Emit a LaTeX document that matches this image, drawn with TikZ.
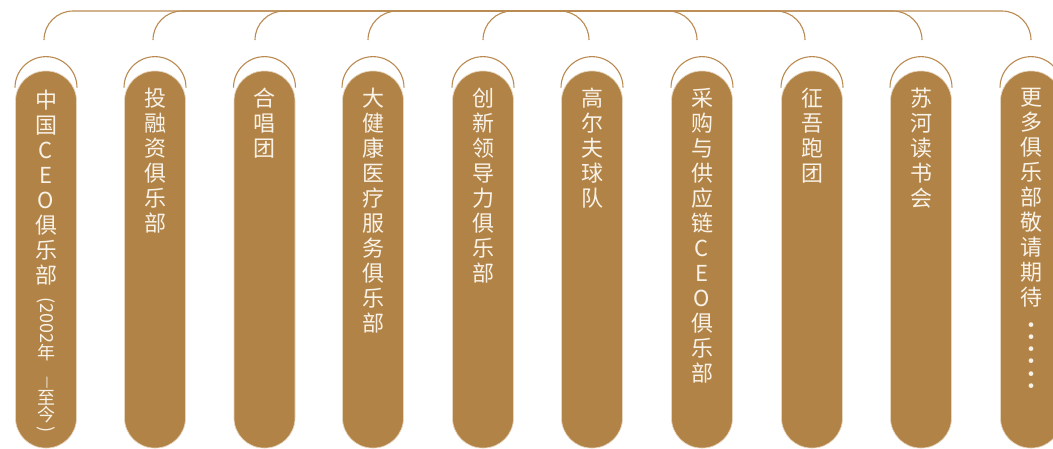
\documentclass[tikz,border=0pt]{standalone}
\usepackage{fontspec}
\usepackage{graphicx}
\setmainfont{Noto Sans CJK SC}
\usetikzlibrary{positioning}
\definecolor{clubbrown}{HTML}{B28346}
\definecolor{clubline}{HTML}{B98A51}
\definecolor{clubrim}{HTML}{E6D6C0}
\definecolor{clubtext}{HTML}{F8F2E8}

\begin{document}
\begin{tikzpicture}[x=1pt,y=-1pt,
pill/.style={rectangle,rounded corners=30pt,fill=clubbrown,
draw=clubrim,line width=0.7pt,
minimum width=61pt,minimum height=377pt,inner sep=0pt},
pilltext/.style={text=clubtext,align=center,inner sep=0pt,
font=\fontsize{22}{25}\selectfont},
smalltext/.style={text=clubtext,align=center,inner sep=0pt,
font=\fontsize{18}{17}\selectfont},
hood/.style={draw=clubline,line width=1.1pt},
link/.style={draw=clubline,line width=1.1pt,rounded corners=29pt}]
\clip (0,0) rectangle (1053,448);

\node[pill] (pill1) at (46,259.5) {};
\node[pill] (pill2) at (155,259.5) {};
\node[pill] (pill3) at (264.5,259.5) {};
\node[pill] (pill4) at (373,259.5) {};
\node[pill] (pill5) at (483,259.5) {};
\node[pill] (pill6) at (592,259.5) {};
\node[pill] (pill7) at (702,259.5) {};
\node[pill] (pill8) at (812,259.5) {};
\node[pill] (pill9) at (921,259.5) {};
\node[pill] (pill10) at (1031,259.5) {};

\draw[hood] ([xshift=-31pt,yshift=-17pt]pill1.north) arc[start angle=180,end angle=360,radius=31];
\draw[hood] ([xshift=-31pt,yshift=-17pt]pill2.north) arc[start angle=180,end angle=360,radius=31];
\draw[hood] ([xshift=-31pt,yshift=-17pt]pill3.north) arc[start angle=180,end angle=360,radius=31];
\draw[hood] ([xshift=-31pt,yshift=-17pt]pill4.north) arc[start angle=180,end angle=360,radius=31];
\draw[hood] ([xshift=-31pt,yshift=-17pt]pill5.north) arc[start angle=180,end angle=360,radius=31];
\draw[hood] ([xshift=-31pt,yshift=-17pt]pill6.north) arc[start angle=180,end angle=360,radius=31];
\draw[hood] ([xshift=-31pt,yshift=-17pt]pill7.north) arc[start angle=180,end angle=360,radius=31];
\draw[hood] ([xshift=-31pt,yshift=-17pt]pill8.north) arc[start angle=180,end angle=360,radius=31];
\draw[hood] ([xshift=-31pt,yshift=-17pt]pill9.north) arc[start angle=180,end angle=360,radius=31];
\draw[hood] ([xshift=-31pt,yshift=-17pt]pill10.north) arc[start angle=180,end angle=360,radius=31];

\node[pilltext,below=19pt of pill1.north] (t1) {中\\国\\C\\E\\O\\俱\\乐\\部};
\node[smalltext,below=12pt of t1] (s1) {\rotatebox{-90}{(2002}\\年\\\rotatebox{-90}{\fontsize{14}{17}\selectfont —}\\至\\今\\[-12pt]\rotatebox{-90}{)}};
\node[pilltext,below=17pt of pill2.north] (t2) {投\\融\\资\\俱\\乐\\部};
\node[pilltext,below=17pt of pill3.north] (t3) {合\\唱\\团};
\node[pilltext,below=17pt of pill4.north] (t4) {大\\健\\康\\医\\疗\\服\\务\\俱\\乐\\部};
\node[pilltext,below=17pt of pill5.north] (t5) {创\\新\\领\\导\\力\\俱\\乐\\部};
\node[pilltext,below=17pt of pill6.north] (t6) {高\\尔\\夫\\球\\队};
\node[pilltext,below=17pt of pill7.north] (t7) {采\\购\\与\\供\\应\\链\\C\\E\\O\\俱\\乐\\部};
\node[pilltext,below=17pt of pill8.north] (t8) {征\\吾\\跑\\团};
\node[pilltext,below=17pt of pill9.north] (t9) {苏\\河\\读\\书\\会};
\node[pilltext,below=17pt of pill10.north] (t10) {更\\多\\俱\\乐\\部\\敬\\请\\期\\待};
\node[pilltext,below=15pt of t10,
font=\fontsize{22}{12.3}\selectfont] (dots10) {·\\·\\·\\·\\·\\·};

\coordinate (hub) at (536,11);
\coordinate (d1) at (44,40);
\coordinate (d2) at (153,40);
\coordinate (d3) at (255,40);
\coordinate (d4) at (368,40);
\coordinate (d5) at (483,40);
\coordinate (d6) at (589,40);
\coordinate (d7) at (697,40);
\coordinate (d8) at (805,40);
\coordinate (d9) at (922,40);
\coordinate (d10) at (1031,40);
\draw[link] (d1) |- (hub);
\draw[link] (d2) |- (hub);
\draw[link] (d3) |- (hub);
\draw[link] (d4) |- (hub);
\draw[link] (d5) |- (hub);
\draw[link] (d6) |- (hub);
\draw[link] (d7) |- (hub);
\draw[link] (d8) |- (hub);
\draw[link] (d9) |- (hub);
\draw[link] (d10) |- (hub);
\end{tikzpicture}
\end{document}
